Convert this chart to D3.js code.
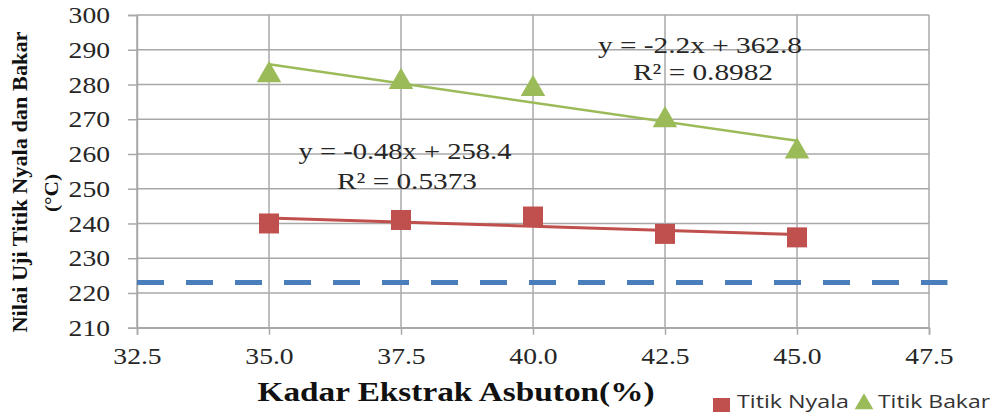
<!DOCTYPE html>
<html><head><meta charset="utf-8">
<script src="https://cdn.jsdelivr.net/npm/d3@7"></script>
<style>body{margin:0;background:#fff;}svg{display:block;}
.sx{transform-box:fill-box;transform-origin:center;transform:scaleX(1.15);}
.sxr{transform-box:fill-box;transform-origin:right center;transform:scaleX(1.15);}
</style>
</head><body>
<svg id="c" width="993" height="414"></svg>
<script>
const xValues = [35.0, 37.5, 40.0, 42.5, 45.0];
const titikNyala = [240, 241, 242, 237, 236];
const titikBakar = [283, 281, 279, 270, 261];
const xTicks = [32.5, 35.0, 37.5, 40.0, 42.5, 45.0, 47.5];
const yTicks = [210, 220, 230, 240, 250, 260, 270, 280, 290, 300];
const limitLine = {x0: 32.5, x1: 47.85, y: 223};
const trendNyala = {slope: -0.48, intercept: 258.4, r2: "0.5373"};
const trendBakar = {slope: -2.2, intercept: 362.8, r2: "0.8982"};

const svg = d3.select("#c");
const x = d3.scaleLinear().domain([32.5, 47.5]).range([137, 929]);
const y = d3.scaleLinear().domain([210, 300]).range([327.7, 15]);
const grid = "#a8a8a8";
const serif = "'Liberation Serif','Times New Roman',serif";
const sans = "'Open Sans','Liberation Sans',sans-serif";

// gridlines
svg.append("g").selectAll("line").data(yTicks).join("line")
  .attr("x1", x(32.5)).attr("x2", x(47.5))
  .attr("y1", d => y(d)).attr("y2", d => y(d))
  .attr("stroke", grid).attr("stroke-width", 1.5);
svg.append("g").selectAll("line").data(xTicks).join("line")
  .attr("y1", y(300)).attr("y2", y(210))
  .attr("x1", d => x(d)).attr("x2", d => x(d))
  .attr("stroke", grid).attr("stroke-width", 1.5);

// axes
const yAxis = d3.axisLeft(y).tickValues(yTicks).tickSize(9).tickPadding(18).tickFormat(d3.format("d"));
const gy = svg.append("g").attr("transform", `translate(${x(32.5)},0)`).call(yAxis);
const xAxis = d3.axisBottom(x).tickValues(xTicks).tickSize(7).tickPadding(12).tickFormat(d3.format(".1f"));
const gx = svg.append("g").attr("transform", `translate(0,${y(210)})`).call(xAxis);
[gx, gy].forEach(g => {
  g.attr("font-family", serif).attr("font-size", 24);
  g.select(".domain").attr("stroke", grid).attr("stroke-width", 1.5);
  g.selectAll(".tick line").attr("stroke", grid).attr("stroke-width", 1.5);
  g.selectAll(".tick text").attr("fill", "#262626").style("font-family", serif).style("font-size", "24px");
});
gx.selectAll(".tick text").attr("class", "sx");
gy.selectAll(".tick text").attr("class", "sxr");

// limit dashed line
svg.append("line")
  .attr("x1", x(limitLine.x0)).attr("x2", x(limitLine.x1))
  .attr("y1", y(limitLine.y)).attr("y2", y(limitLine.y))
  .attr("stroke", "#4a7ebb").attr("stroke-width", 5)
  .attr("stroke-dasharray", "27 22");

// trendlines
function trend(t, color, w) {
  const x0 = d3.min(xValues), x1 = d3.max(xValues);
  svg.append("line")
    .attr("x1", x(x0)).attr("x2", x(x1))
    .attr("y1", y(t.slope * x0 + t.intercept)).attr("y2", y(t.slope * x1 + t.intercept))
    .attr("stroke", color).attr("stroke-width", w);
}
trend(trendNyala, "#c0504d", 3);
trend(trendBakar, "#9bbb59", 2.5);

// markers
const sq = 20;
svg.append("g").selectAll("rect").data(xValues).join("rect")
  .attr("x", d => x(d) - sq / 2).attr("y", (d, i) => y(titikNyala[i]) - sq / 2)
  .attr("width", sq).attr("height", sq).attr("fill", "#c0504d");
const tri = d3.symbol().type(d3.symbolTriangle).size(260);
svg.append("g").selectAll("path").data(xValues).join("path")
  .attr("d", tri)
  .attr("transform", (d, i) => `translate(${x(d)},${y(titikBakar[i]) + 1})`)
  .attr("fill", "#9bbb59");

// helper for stretched text
function txt(str, cx, yb, fs, len, opts = {}) {
  return svg.append("text").attr("x", cx).attr("y", yb).attr("text-anchor", opts.anchor || "middle")
    .style("font-family", opts.family || serif).style("font-size", fs + "px")
    .style("font-weight", opts.weight || "normal")
    .attr("fill", opts.fill || "#262626")
    .attr("textLength", len).attr("lengthAdjust", "spacingAndGlyphs")
    .text(str);
}

// equations
txt(`y = ${trendBakar.slope}x + ${trendBakar.intercept}`, 700, 53, 23, 204);
txt(`R² = ${trendBakar.r2}`, 703, 80, 23, 140);
txt(`y = ${trendNyala.slope}x + ${trendNyala.intercept}`, 405, 159, 23, 213);
txt(`R² = ${trendNyala.r2}`, 407, 189, 23, 140);

// axis titles
txt("Kadar Ekstrak Asbuton(%)", 456, 401, 27, 397, {weight: "bold", fill: "#111"});
svg.append("text").attr("transform", "translate(27,182) rotate(-90)").attr("text-anchor", "middle")
  .style("font-family", serif).style("font-size", "21px").style("font-weight", "bold")
  .attr("textLength", 301).attr("lengthAdjust", "spacingAndGlyphs")
  .attr("fill", "#111").text("Nilai Uji Titik Nyala dan Bakar");
svg.append("text").attr("transform", "translate(58,193) rotate(-90)").attr("text-anchor", "middle")
  .style("font-family", serif).style("font-size", "18px").style("font-weight", "bold")
  .attr("textLength", 38).attr("lengthAdjust", "spacingAndGlyphs")
  .attr("fill", "#111").text("(°C)");

// legend
svg.append("rect").attr("x", 713).attr("y", 398).attr("width", 17).attr("height", 14).attr("fill", "#c0504d");
txt("Titik Nyala", 737, 408, 18, 112, {anchor: "start", family: sans, fill: "#333"});
svg.append("path").attr("d", d3.symbol().type(d3.symbolTriangle).size(150))
  .attr("transform", "translate(864,404)").attr("fill", "#9bbb59");
txt("Titik Bakar", 878, 408, 18, 112, {anchor: "start", family: sans, fill: "#333"});
</script>
</body></html>
